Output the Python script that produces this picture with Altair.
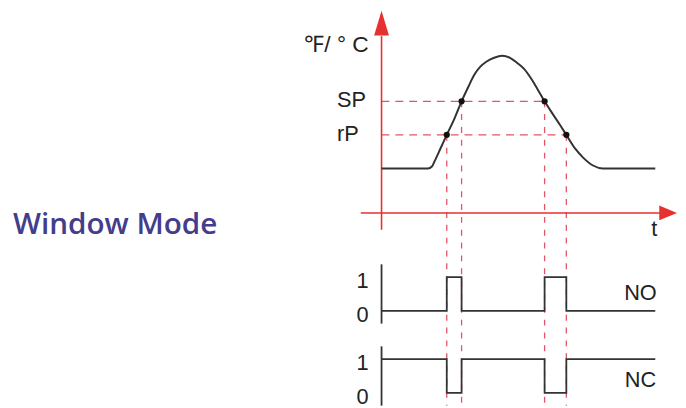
import altair as alt
import pandas as pd

# ---- layout of the drawing (plot area size) ----
W, H = 678, 400
T_DOMAIN = [-378, 300]   # time units, 0 = temperature axis
V_DOMAIN = [-195, 205]   # level units, 0 = time axis

# ---- temperature trace (time, temperature) ----
curve_t = [0, 47, 51, 54, 60, 66, 74, 81, 88, 94, 100, 106, 114, 122,
           130, 137, 144, 152, 158, 165, 172, 180, 187, 196, 204, 214, 224, 277]
curve_v = [45, 45, 47, 53, 66, 79, 96, 113, 128, 140, 148, 153, 157, 159,
           157, 152, 146, 135, 125, 113, 102, 90, 79, 65, 56, 48, 45, 45]

# ---- thresholds ----
thr_names = ["SP", "rP"]
thr_levels = [113, 79]
thr_ends = [165, 187]

# ---- switching instants (where the trace crosses SP / rP) ----
switch_t = [66, 81, 165, 187]
switch_v = [79, 113, 113, 79]

# ---- outputs ----
edges = [0, 66, 81, 165, 187, 277]
no_state = [0, 1, 0, 1, 0]
nc_state = [1, 0, 1, 0, 1]
NO_LEVELS = [-99, -65]     # level for state 0, state 1
NC_LEVELS = [-182, -148]

RED = "#e5312f"
DASH = "#e25566"
INK = "#333333"

xs = alt.Scale(domain=T_DOMAIN, nice=False, zero=False)
ys = alt.Scale(domain=V_DOMAIN, nice=False, zero=False)


def X(f="t"):
    return alt.X(f, type="quantitative", scale=xs, axis=None)


def Y(f="v"):
    return alt.Y(f, type="quantitative", scale=ys, axis=None)


def steps(states, levels, name):
    rows = []
    k = 0
    for i, s in enumerate(states):
        for e in (edges[i], edges[i + 1]):
            rows.append(dict(t=e, v=levels[s], sig=name, k=k))
            k += 1
    return rows


curve_df = pd.DataFrame({"t": curve_t, "v": curve_v, "k": range(len(curve_t))})
thr_df = pd.DataFrame({"name": thr_names, "v": thr_levels, "t": [0, 0], "t2": thr_ends})
sw_df = pd.DataFrame({"t": switch_t, "v": switch_v, "v2": [V_DOMAIN[0]] * 4})
sig_df = pd.DataFrame(steps(no_state, NO_LEVELS, "NO") + steps(nc_state, NC_LEVELS, "NC"))
sig_axes = pd.DataFrame({"t": [0, 0], "v": [-52, -135], "v2": [-112, -195]})
state_lbl = pd.DataFrame({
    "txt": ["1", "0", "1", "0"],
    "v": [NO_LEVELS[1], NO_LEVELS[0], NC_LEVELS[1], NC_LEVELS[0]],
    "t": [0, 0, 0, 0],
})
sig_lbl = pd.DataFrame({"txt": ["NO", "NC"], "t": [262, 262],
                        "v": [NO_LEVELS[0] + 18, NC_LEVELS[1] - 21]})
axes_df = pd.DataFrame({"t": [0, -21], "t2": [0, 282], "v": [-17, 0], "v2": [179, 0]})
arrow_df = pd.DataFrame({"t": [0, 290], "v": [192, 0], "dir": ["up", "right"]})

vert_dash = alt.Chart(sw_df).mark_rule(color=DASH, strokeWidth=1.3, strokeDash=[6, 7]).encode(
    x=X(), y=Y(), y2="v2")
hor_dash = alt.Chart(thr_df).mark_rule(color=DASH, strokeWidth=1.3, strokeDash=[8, 6]).encode(
    x=X(), x2="t2", y=Y())
axes = alt.Chart(axes_df).mark_rule(color=RED, strokeWidth=1.6).encode(
    x=X(), x2="t2", y=Y(), y2="v2")
arrow_up = alt.Chart(arrow_df[arrow_df.dir == "up"]).mark_point(
    shape="M0,-1L-0.6,1L0.6,1Z", size=625, filled=True, color=RED, opacity=1, strokeWidth=0
).encode(x=X(), y=Y())
arrow_right = alt.Chart(arrow_df[arrow_df.dir == "right"]).mark_point(
    shape="M1,0L-1,-0.83L-1,0.83Z", size=324, filled=True, color=RED, opacity=1, strokeWidth=0
).encode(x=X(), y=Y())
curve = alt.Chart(curve_df).mark_line(color=INK, strokeWidth=2, interpolate="monotone").encode(
    x=X(), y=Y(), order="k")
dots = alt.Chart(sw_df).mark_point(shape="circle", filled=True, color="#111111", size=40, opacity=1).encode(
    x=X(), y=Y())
sig_lines = alt.Chart(sig_df).mark_line(color=INK, strokeWidth=1.8).encode(
    x=X(), y=Y(), order="k", detail="sig")
sig_ax = alt.Chart(sig_axes).mark_rule(color=INK, strokeWidth=1.8).encode(x=X(), y=Y(), y2="v2")

lab_font = "Liberation Sans"
unit_lbl = alt.Chart(pd.DataFrame({"txt": ["℉/ ° C"], "t": [0], "v": [170]})).mark_text(
    font=lab_font, fontSize=23, align="right", baseline="middle", dx=-13, color="#222222"
).encode(x=X(), y=Y(), text="txt")
thr_lbl = alt.Chart(thr_df).mark_text(
    font=lab_font, fontSize=22, align="left", baseline="middle", dx=-45, dy=-1, color="#222222"
).encode(x=X(), y=Y(), text="name")
t_lbl = alt.Chart(pd.DataFrame({"txt": ["t"], "t": [276], "v": [-16]})).mark_text(
    font=lab_font, fontSize=22, align="center", baseline="middle", color="#222222"
).encode(x=X(), y=Y(), text="txt")
st_lbl = alt.Chart(state_lbl).mark_text(
    font=lab_font, fontSize=22, align="right", baseline="middle", dx=-13, dy=4, color="#222222"
).encode(x=X(), y=Y(), text="txt")
sg_lbl = alt.Chart(sig_lbl).mark_text(
    font=lab_font, fontSize=22, align="center", baseline="middle", color="#222222"
).encode(x=X(), y=Y(), text="txt")
title = alt.Chart(pd.DataFrame({"txt": ["Window Mode"], "t": [-373], "v": [-12]})).mark_text(
    font="Open Sans", fontSize=30, fontWeight=600, align="left", baseline="middle", color="#433d8b"
).encode(x=X(), y=Y(), text="txt")

chart = alt.layer(
    vert_dash, hor_dash, axes, arrow_up, arrow_right, curve, dots,
    sig_lines, sig_ax, unit_lbl, thr_lbl, t_lbl, st_lbl, sg_lbl, title
).properties(
    width=W, height=H, padding=0, autosize=alt.AutoSizeParams(type="none"), background="white"
).configure_view(stroke=None)

chart.save("out.html", embed_options={"renderer": "svg", "actions": False})
